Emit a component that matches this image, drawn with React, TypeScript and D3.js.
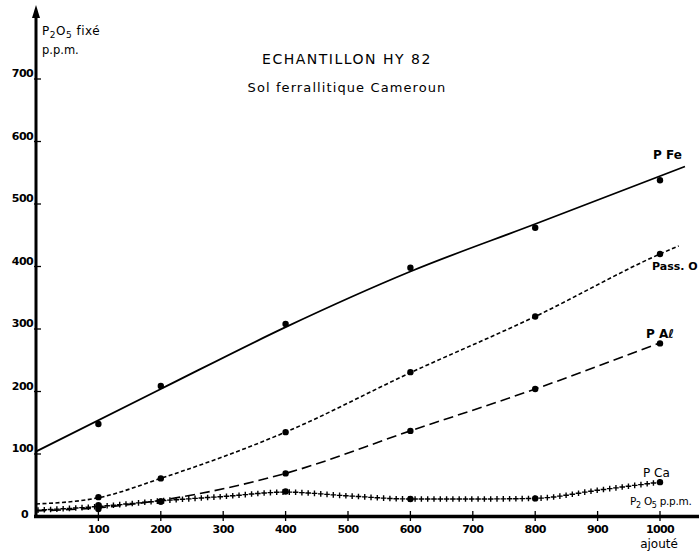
import React, { useEffect, useRef } from "react";
import * as d3 from "d3";

const xTicks = [100, 200, 300, 400, 500, 600, 700, 800, 900, 1000];
const yTicks = [0, 100, 200, 300, 400, 500, 600, 700];

// observed points [P2O5 added, P2O5 fixed]
const feObs: [number, number][] = [[100, 148], [200, 209], [400, 308], [600, 398], [800, 462], [1000, 538]];
const passObs: [number, number][] = [[100, 31], [200, 61], [400, 135], [600, 231], [800, 320], [1000, 420]];
const alObs: [number, number][] = [[100, 12], [200, 24], [400, 69], [600, 137], [800, 204], [1000, 277]];
const caObs: [number, number][] = [[100, 18], [200, 24], [400, 40], [600, 28], [800, 29], [1000, 55]];

// hand-drawn curves
const feCurve: [number, number][] = [[0, 104], [200, 204], [400, 303], [600, 392], [800, 468], [1040, 560]];
const passCurve: [number, number][] = [[0, 20], [100, 30], [200, 61], [400, 135], [600, 230], [800, 320], [1000, 420], [1030, 433]];
const alCurve: [number, number][] = [[0, 9], [100, 14], [200, 26], [400, 69], [600, 137], [800, 204], [1000, 278]];
const caCurve: [number, number][] = [[0, 10], [100, 16], [200, 25], [300, 32], [400, 39], [500, 33], [600, 28], [700, 28], [800, 29], [900, 42], [1000, 55]];

const FONT = "'DejaVu Sans', sans-serif";

export default function App() {
  const ref = useRef<SVGSVGElement>(null);
  useEffect(() => {
    const svg = d3.select(ref.current);
    svg.selectAll("*").remove();
    const x = d3.scaleLinear().domain([0, 1000]).range([36, 660]);
    const y = d3.scaleLinear().domain([0, 700]).range([516.5, 79]);
    const line = d3.line<[number, number]>().x(d => x(d[0])).y(d => y(d[1])).curve(d3.curveMonotoneX);

    // axes
    svg.append("line").attr("x1", 36).attr("x2", 36).attr("y1", 518).attr("y2", 14)
      .attr("stroke", "#000").attr("stroke-width", 3);
    svg.append("path").attr("d", "M36,5 L32,18 L40,18 Z").attr("fill", "#000");
    svg.append("line").attr("x1", 34).attr("x2", 699).attr("y1", 516.5).attr("y2", 516.5)
      .attr("stroke", "#000").attr("stroke-width", 3.5);

    yTicks.forEach(v => {
      if (v > 0) svg.append("line").attr("x1", 34).attr("x2", 41).attr("y1", y(v)).attr("y2", y(v))
        .attr("stroke", "#000").attr("stroke-width", 1.3);
      svg.append("text").attr("x", v === 0 ? 28 : 33).attr("y", v === 0 ? y(v) + 1 : y(v) - 2)
        .attr("text-anchor", "end").attr("font-family", FONT).attr("font-size", 11).attr("font-weight", "bold")
        .attr("letter-spacing", -0.6).text(String(v));
    });
    xTicks.forEach(v => {
      svg.append("line").attr("x1", x(v)).attr("x2", x(v)).attr("y1", 511).attr("y2", 521)
        .attr("stroke", "#000").attr("stroke-width", 1.3);
      svg.append("text").attr("x", x(v)).attr("y", 533)
        .attr("text-anchor", "middle").attr("font-family", FONT).attr("font-size", 11).attr("font-weight", "bold")
        .attr("letter-spacing", -0.6).text(String(v));
    });

    // curves
    svg.append("path").attr("d", line(feCurve)).attr("fill", "none").attr("stroke", "#000").attr("stroke-width", 1.8);
    svg.append("path").attr("d", line(passCurve)).attr("fill", "none").attr("stroke", "#000").attr("stroke-width", 1.6)
      .attr("stroke-dasharray", "4,2.5");
    svg.append("path").attr("d", line(alCurve)).attr("fill", "none").attr("stroke", "#000").attr("stroke-width", 1.6)
      .attr("stroke-dasharray", "10,5");
    const caPath = svg.append("path").attr("d", line(caCurve)).attr("fill", "none").attr("stroke", "none");
    const node = caPath.node() as SVGPathElement;
    const len = node.getTotalLength();
    const crosses: string[] = [];
    for (let s = 2; s <= len; s += 6.3) {
      const p = node.getPointAtLength(s);
      crosses.push(`M${p.x - 2.8},${p.y}H${p.x + 2.8}M${p.x},${p.y - 2.8}V${p.y + 2.8}`);
    }
    svg.append("path").attr("d", crosses.join("")).attr("stroke", "#000").attr("stroke-width", 1.4).attr("fill", "none");

    // points
    [feObs, passObs, alObs, caObs].forEach(arr => {
      svg.append("g").selectAll("circle").data(arr).join("circle")
        .attr("cx", d => x(d[0])).attr("cy", d => y(d[1])).attr("r", 3.2).attr("fill", "#000");
    });

    const txt = (tx: number, ty: number, s: string, size = 11, anchor = "start") =>
      svg.append("text").attr("x", tx).attr("y", ty).attr("font-family", FONT).attr("font-size", size)
        .attr("text-anchor", anchor).attr("fill", "#000").text(s);

    // titles
    txt(347, 64, "ECHANTILLON   HY 82", 14, "middle").attr("letter-spacing", 1.5);
    txt(347, 92, "Sol  ferrallitique  Cameroun", 13, "middle").attr("letter-spacing", 1.1);

    // y label
    const yl = svg.append("text").attr("x", 42).attr("y", 35).attr("font-family", FONT).attr("font-size", 12)
      .attr("letter-spacing", 0.5);
    yl.append("tspan").text("P");
    yl.append("tspan").attr("dy", 3).attr("font-size", 9).text("2");
    yl.append("tspan").attr("dy", -3).text("O");
    yl.append("tspan").attr("dy", 3).attr("font-size", 9).text("5");
    yl.append("tspan").attr("dy", -3).text("  fixé");
    txt(42, 54, "p.p.m.", 11.5);

    // series labels
    txt(653, 159, "P  Fe", 12).attr("font-weight", "bold");
    txt(652, 270, "Pass. O", 11).attr("font-weight", "bold");
    txt(646, 338, "P  Aℓ", 12).attr("font-weight", "bold");
    txt(643, 477, "P  Ca", 12);
    const xl = svg.append("text").attr("x", 630).attr("y", 505).attr("font-family", FONT).attr("font-size", 10.5)
      .attr("letter-spacing", -0.3);
    xl.append("tspan").text("P");
    xl.append("tspan").attr("dy", 3).attr("font-size", 8).text("2");
    xl.append("tspan").attr("dy", -3).text(" O");
    xl.append("tspan").attr("dy", 3).attr("font-size", 8).text("5");
    xl.append("tspan").attr("dy", -3).text(" p.p.m.");
    txt(659, 548, "ajouté", 12, "middle");
  }, []);
  return (
    <svg ref={ref} width={699} height={553}
      style={{ position: "absolute", left: 0, top: 0, background: "#fff", display: "block" }} />
  );
}
